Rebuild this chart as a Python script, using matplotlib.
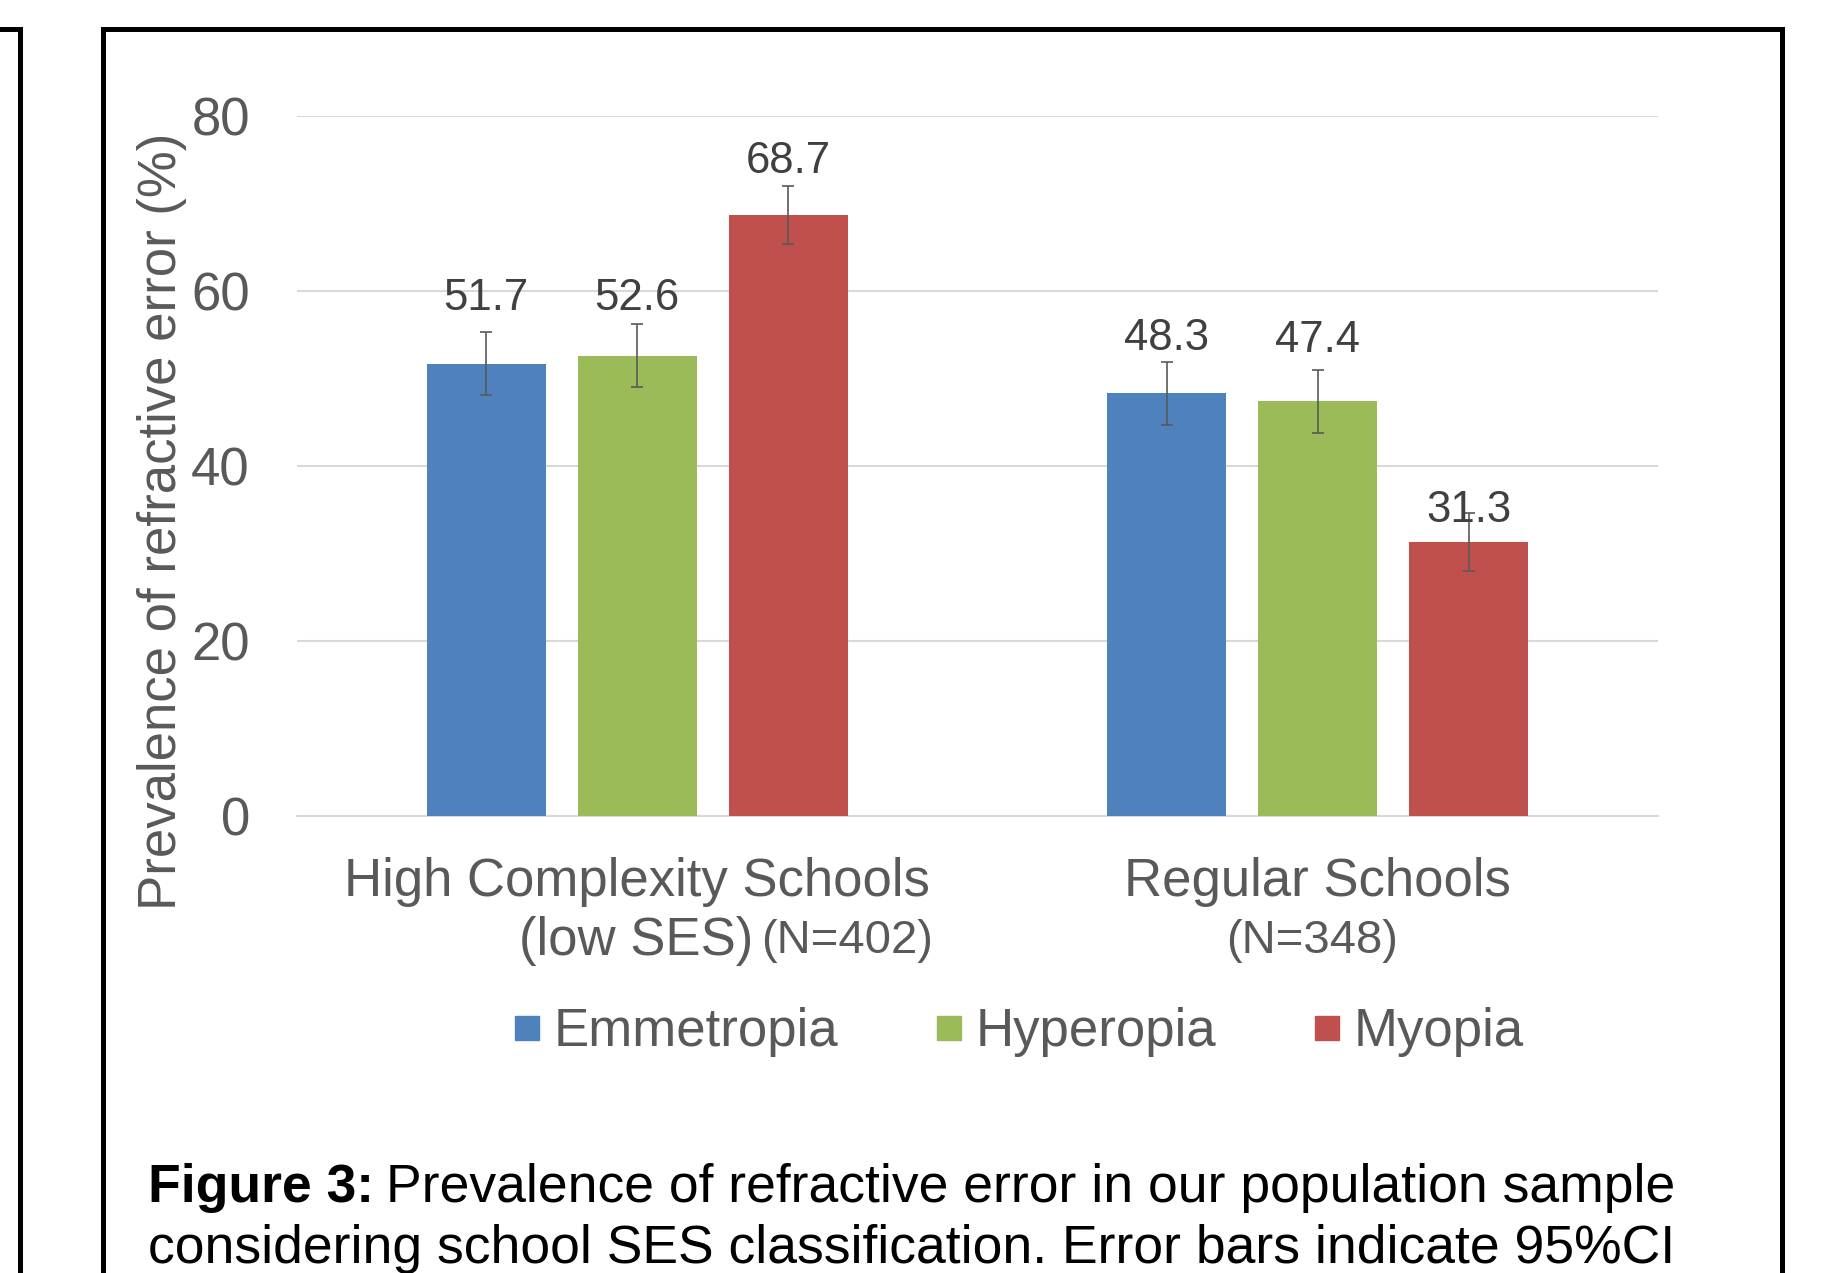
import numpy as np
import matplotlib
matplotlib.use("Agg")
import matplotlib.pyplot as plt
from matplotlib.lines import Line2D

# Données du graphique
groups = ["High Complexity Schools", "Regular Schools"]
group_sub = ["(low SES)", "(N=348)"]
group_n = ["(N=402)", ""]
series = ["Emmetropia", "Hyperopia", "Myopia"]
emmetropia = [51.7, 48.3]
hyperopia = [52.6, 47.4]
myopia = [68.7, 31.3]
emmetropia_ci = [3.6, 3.6]
hyperopia_ci = [3.6, 3.6]
myopia_ci = [3.3, 3.3]
yticks = [0, 20, 40, 60, 80]

colors = ["#4F81BD", "#9BBB59", "#C0504D"]
values = [emmetropia, hyperopia, myopia]
errors = [emmetropia_ci, hyperopia_ci, myopia_ci]
# décalage vertical des étiquettes (unités de données), placées à la main
label_offsets = [[7.4, 6.3], [6.5, 6.9], [6.1, 3.6]]

plt.rcParams["font.family"] = ["Liberation Sans", "DejaVu Sans"]

W, H = 1841, 1273
fig = plt.figure(figsize=(W / 100, H / 100), dpi=100)
fig.patch.set_facecolor("white")

ax = fig.add_axes([297 / W, 1 - 816 / H, (1658 - 297) / W, 700 / H])

x = np.arange(len(groups))
width = 0.175
step = 0.222
for i, (vals, errs, col) in enumerate(zip(values, errors, colors)):
    pos = x + (i - 1) * step
    ax.bar(pos, vals, width, color=col, zorder=3)
    ax.errorbar(pos, vals, yerr=errs, fmt="none", ecolor="#595959",
                elinewidth=1.2, capsize=4, capthick=1.2, zorder=4)
    for j, v in enumerate(vals):
        ax.text(pos[j], v + label_offsets[i][j], f"{v:.1f}", ha="center",
                va="center", fontsize=31.5, color="#404040", zorder=5)

ax.set_xlim(-0.5, 1.5)
ax.set_ylim(0, 80)
ax.set_yticks(yticks)
ax.set_yticklabels([str(t) for t in yticks], fontsize=38, color="#595959")
ax.tick_params(axis="y", length=0, pad=34)
ax.set_xticks([])
ax.yaxis.grid(True, color="#D9D9D9", linewidth=1.5, zorder=0)
ax.set_axisbelow(True)
for s in ["top", "right", "left"]:
    ax.spines[s].set_visible(False)
ax.spines["bottom"].set_color("#D9D9D9")
ax.spines["bottom"].set_linewidth(1.5)

# étiquettes des catégories
trans = ax.get_xaxis_transform()
y1 = -(882 - 816) / 700
y2 = -(941 - 816) / 700
for j, g in enumerate(groups):
    ax.text(x[j], y1, g, transform=trans, ha="center", va="center",
            fontsize=38, color="#595959")
ax.text(0.171, y2, group_sub[0], transform=trans, ha="right", va="center",
        fontsize=38, color="#595959")
ax.text(0.182, y2, group_n[0], transform=trans, ha="left", va="center",
        fontsize=34, color="#595959")
ax.text(0.992, y2, group_sub[1], transform=trans, ha="center", va="center",
        fontsize=34, color="#595959")

fig.text(162 / W, 1 - 521 / H, "Prevalence of refractive error (%)",
         rotation=90, ha="center", va="center", fontsize=38, color="#595959")

handles = [Line2D([], [], marker="s", linestyle="none", markersize=17,
                  color=c) for c in colors]
fig.legend(handles, series, loc="center", ncol=3,
           bbox_to_anchor=(1019 / W, 1 - 1032 / H), frameon=False,
           fontsize=38, labelcolor="#595959", handlelength=0.5,
           handletextpad=0.25, columnspacing=1.85)

# cadres noirs
box = dict(color="black", linewidth=3.6, solid_joinstyle="miter")
fig.add_artist(Line2D([0, 20 / W, 20 / W], [1 - 29 / H, 1 - 29 / H, 0],
                      transform=fig.transFigure, **box))
fig.add_artist(Line2D([103 / W, 103 / W, 1782 / W, 1782 / W],
                      [0, 1 - 29 / H, 1 - 29 / H, 0],
                      transform=fig.transFigure, **box))

# légende de la figure
cap = 38.5
t1 = fig.text(148 / W, 1 - 1188 / H, "Figure 3:", fontsize=cap,
              fontweight="bold", ha="left", va="center", color="black")
fig.canvas.draw()
bb = t1.get_window_extent(renderer=fig.canvas.get_renderer())
fig.text(bb.x1 / W + 12 / W, 1 - 1188 / H,
         "Prevalence of refractive error in our population sample",
         fontsize=cap, ha="left", va="center", color="black")
fig.text(148 / W, 1 - 1249 / H,
         "considering school SES classification. Error bars indicate 95%CI",
         fontsize=cap, ha="left", va="center", color="black")

plt.savefig("out.png", dpi=100, facecolor="white")
